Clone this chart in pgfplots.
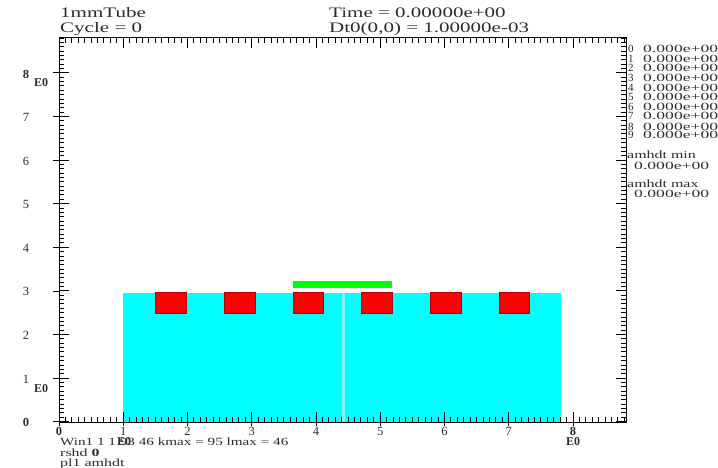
\documentclass[border=0pt]{standalone}
\usepackage{pgfplots}
\pgfplotsset{compat=1.18}
\usepackage{fontspec}
\setmainfont{Liberation Serif}
\definecolor{txt}{RGB}{45,45,45}
\definecolor{cy}{RGB}{0,255,255}
\definecolor{cyl}{RGB}{130,245,245}
\definecolor{rd}{RGB}{255,0,0}
\definecolor{gr}{RGB}{0,255,0}
\newcommand{\T}[4]{\node[anchor=base west,inner sep=0pt,text=txt] at ({#1*1pt},{(467-#2)*1pt}) {\fontsize{#3}{#3}\selectfont #4};}
\begin{document}
\begin{tikzpicture}
\path[use as bounding box] (0pt,0pt) rectangle (718pt,467pt);
\begin{axis}[scale only axis, width=566.7pt, height=384pt,
  at={(59pt,45.3pt)}, anchor=origin,
  xmin=0, xmax=8.82, ymin=0, ymax=8.808,
  axis on top,
  xtick={0,1,2,3,4,5,6,7,8}, ytick={0,1,2,3,4,5,6,7,8},
  minor xtick={0,0.1,...,8.8}, minor ytick={0,0.1,...,8.8},
  xticklabels={\textbf{0},1,2,3,4,5,6,7,\textbf{8}},
  yticklabels={\textbf{0},1,2,3,4,5,6,7,\textbf{8}},
  tick align=inside, xtick pos=both, ytick pos=both,
  xticklabel pos=bottom, yticklabel pos=left,
  major tick length=10pt, minor tick length=5pt,
  tick style={black,line width=1pt},
  xticklabel style={font=\fontsize{12.5}{12.5}\selectfont,text=txt,anchor=center,yshift=-10pt,inner sep=0pt},
  yticklabel style={font=\fontsize{12.5}{12.5}\selectfont,text=txt,anchor=center,xshift=-33pt,yshift=-1pt,inner sep=0pt}]
\addplot[fill=cy,draw=none] coordinates {(1.0,0)(7.82,0)(7.82,2.96)(1.0,2.96)} -- cycle;
\addplot[fill=cyl,draw=none] coordinates {(4.41,0)(4.45,0)(4.45,2.96)(4.41,2.96)} -- cycle;
\addplot[fill=rd,draw=rd!70!black,line width=0.4pt] coordinates {(1.505,2.49)(1.977,2.49)(1.977,2.96)(1.505,2.96)} -- cycle;
\addplot[fill=rd,draw=rd!70!black,line width=0.4pt] coordinates {(2.573,2.49)(3.05,2.49)(3.05,2.96)(2.573,2.96)} -- cycle;
\addplot[fill=rd,draw=rd!70!black,line width=0.4pt] coordinates {(3.64,2.49)(4.11,2.49)(4.11,2.96)(3.64,2.96)} -- cycle;
\addplot[fill=rd,draw=rd!70!black,line width=0.4pt] coordinates {(4.71,2.49)(5.18,2.49)(5.18,2.96)(4.71,2.96)} -- cycle;
\addplot[fill=rd,draw=rd!70!black,line width=0.4pt] coordinates {(5.785,2.49)(6.257,2.49)(6.257,2.96)(5.785,2.96)} -- cycle;
\addplot[fill=rd,draw=rd!70!black,line width=0.4pt] coordinates {(6.85,2.49)(7.315,2.49)(7.315,2.96)(6.85,2.96)} -- cycle;
\addplot[fill=gr,draw=none] coordinates {(3.64,3.07)(5.19,3.07)(5.19,3.23)(3.64,3.23)} -- cycle;
\end{axis}
% outer stubs of the major ticks
\foreach \k in {0,...,8} {
  \draw[black,line width=0.8pt] ({(59+64.25*\k)*1pt},45.3pt) -- ++(0pt,-4pt);
  \draw[black,line width=0.8pt] (59pt,{(45.3+43.6*\k)*1pt}) -- ++(-6pt,0pt);
}
% text
\T{60}{18}{14.5}{\scalebox{1.45}[1]{1mmTube}}
\T{60}{33}{14.5}{\scalebox{1.45}[1]{Cycle = 0}}
\T{329}{18}{14.5}{\scalebox{1.45}[1]{Time = 0.00000e+00}}
\T{329}{33}{14.5}{\scalebox{1.45}[1]{Dt0(0,0) = 1.00000e-03}}
\T{628}{53}{11}{0}\T{643}{53}{11}{\scalebox{1.6}[1]{0.000e+00}}
\T{628}{62.5}{11}{1}\T{643}{62.5}{11}{\scalebox{1.6}[1]{0.000e+00}}
\T{628}{72}{11}{2}\T{643}{72}{11}{\scalebox{1.6}[1]{0.000e+00}}
\T{628}{82}{11}{3}\T{643}{82}{11}{\scalebox{1.6}[1]{0.000e+00}}
\T{628}{91.5}{11}{4}\T{643}{91.5}{11}{\scalebox{1.6}[1]{0.000e+00}}
\T{628}{101}{11}{5}\T{643}{101}{11}{\scalebox{1.6}[1]{0.000e+00}}
\T{628}{110.5}{11}{6}\T{643}{110.5}{11}{\scalebox{1.6}[1]{0.000e+00}}
\T{628}{120}{11}{7}\T{643}{120}{11}{\scalebox{1.6}[1]{0.000e+00}}
\T{628}{130}{11}{8}\T{643}{130}{11}{\scalebox{1.6}[1]{0.000e+00}}
\T{628}{139}{11}{9}\T{643}{139}{11}{\scalebox{1.6}[1]{0.000e+00}}
\T{627}{158.5}{11}{\scalebox{1.45}[1]{amhdt min}}
\T{634}{169}{11}{\scalebox{1.6}[1]{0.000e+00}}
\T{627}{187.5}{11}{\scalebox{1.45}[1]{amhdt max}}
\T{634}{197.5}{11}{\scalebox{1.6}[1]{0.000e+00}}
\T{34}{87}{12}{\textbf{E0}}
\T{34}{392}{12}{\textbf{E0}}
\T{117}{445}{12}{\textbf{E0}}
\T{566}{445}{12}{\textbf{E0}}
\T{60}{445}{11}{\scalebox{1.38}[1]{Win1 1 1 93 46 kmax = 95 lmax = 46}}
\T{60}{456}{11}{\scalebox{1.45}[1]{rshd \textbf{0}}}
\T{60}{466}{11}{\scalebox{1.45}[1]{pl1 amhdt}}
\end{tikzpicture}
\end{document}
